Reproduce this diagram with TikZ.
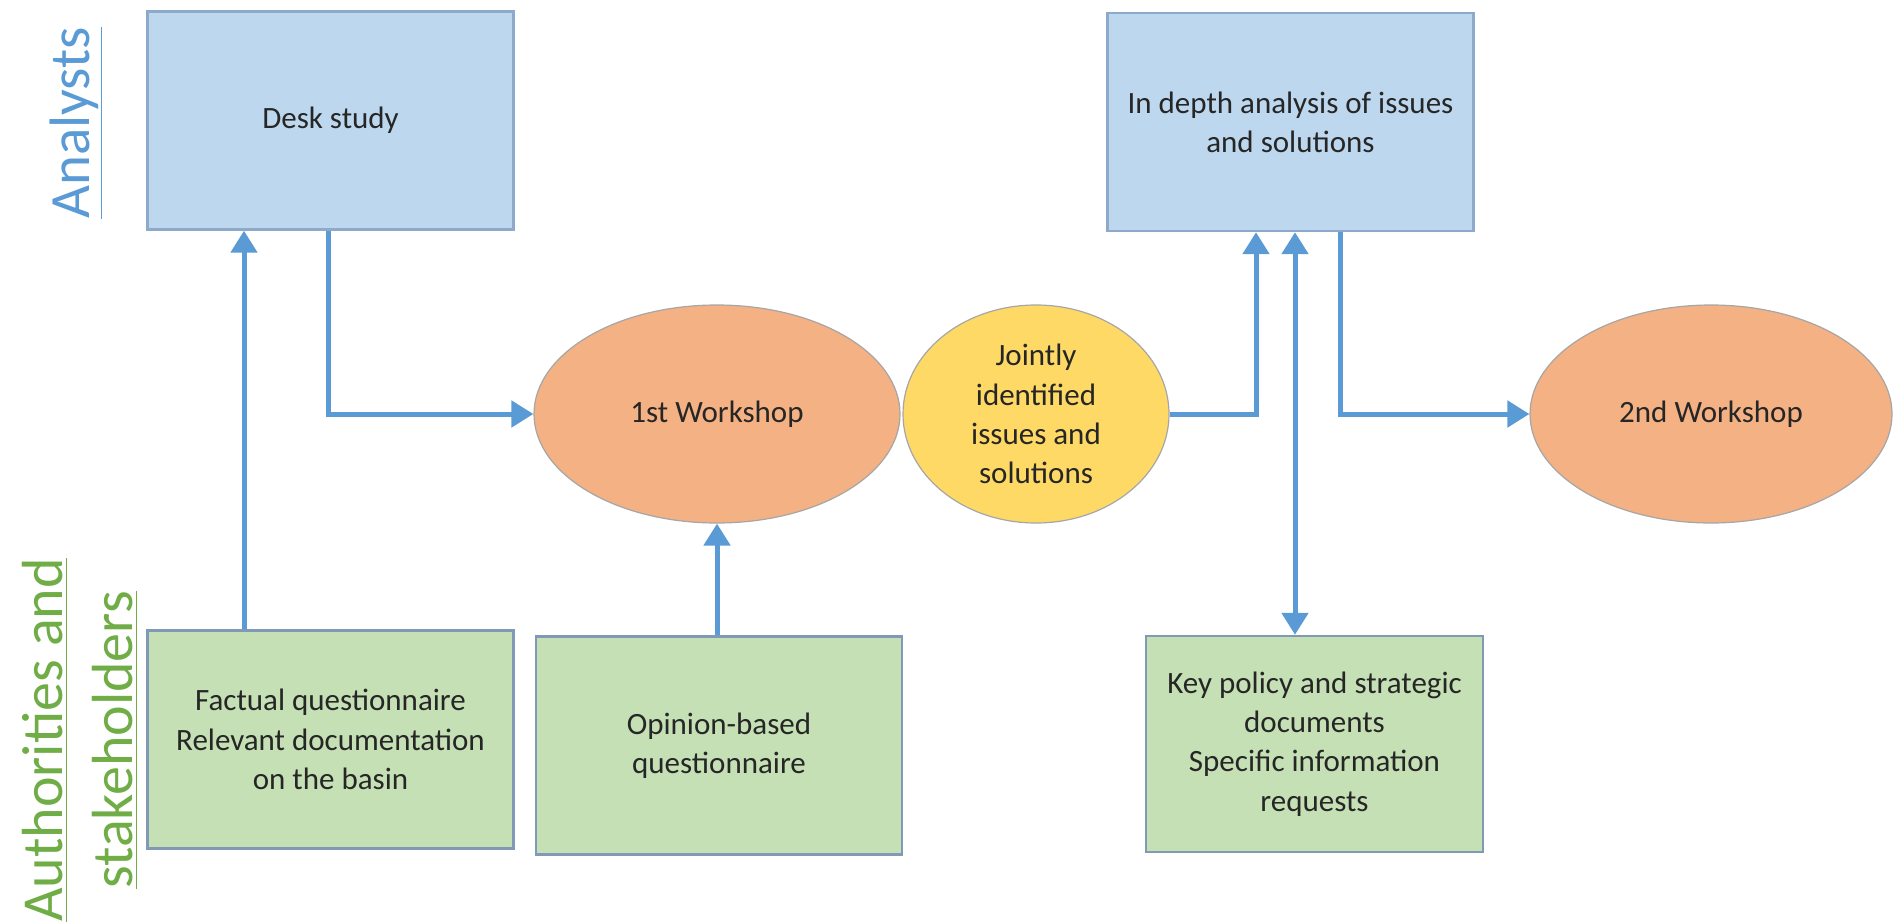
\documentclass[tikz,border=0pt]{standalone}
\usepackage{fontspec}
\setmainfont{Carlito}
\usetikzlibrary{shapes, arrows.meta}
\definecolor{boxblue}{HTML}{BDD7EE}
\definecolor{boxgreen}{HTML}{C5E0B4}
\definecolor{edgeblue}{HTML}{8EAACB}
\definecolor{wsorange}{HTML}{F4B183}
\definecolor{jointyellow}{HTML}{FFD966}
\definecolor{flowblue}{HTML}{5B9BD5}
\definecolor{labgreen}{HTML}{70AD47}

\begin{document}
\begin{tikzpicture}[x=0.5pt, y=-0.5pt,
        txt/.style={align=center, text=black!85, font=\fontsize{15.5}{19.6}\selectfont},
        bluebox/.style={txt, draw=edgeblue, line width=1.2pt, fill=boxblue, minimum width=183pt, minimum height=109pt},
        greenbox/.style={txt, draw=edgeblue!90!black, line width=1.2pt, fill=boxgreen, minimum width=183pt, minimum height=109pt},
        blob/.style={txt, ellipse, draw=black!35, line width=0.6pt, inner sep=0pt, minimum height=109pt},
        flow/.style={draw=flowblue, line width=2.5pt, -{Triangle[width=13pt, length=11pt]}}]
            \useasboundingbox (0,0) rectangle (1893,921);

            % lane labels
            \node[rotate=90, text=flowblue, font=\fontsize{28.5}{34}\selectfont] (analysts) at (76,123) {\underline{Analysts}};
            \node[rotate=90, text=labgreen, align=center, font=\fontsize{29}{35}\selectfont] (stake) at (80,740) {\underline{Authorities and}\\\underline{stakeholders}};

            % boxes and workshops
            \node[bluebox] (desk) at (330.5,120.5) {Desk study};
            \node[bluebox] (depth) at (1290.5,122) {In depth analysis of issues\\and solutions};
            \node[greenbox] (fact) at (330.5,739.5) {Factual questionnaire\\Relevant documentation\\on the basin};
            \node[greenbox] (opinion) at (719,745.5) {Opinion-based\\questionnaire};
            \node[greenbox, minimum width=168.5pt, minimum height=108pt] (keydoc) at (1314.5,744) {Key policy and strategic\\documents\\Specific information\\requests};
            \node[blob, fill=wsorange, minimum width=183pt] (ws1) at (717,414) {1st Workshop};
            \node[blob, fill=jointyellow, minimum width=133pt] (joint) at (1036,414) {Jointly\\identified\\issues and\\solutions};
            \node[blob, fill=wsorange, minimum width=181pt] (ws2) at (1711,414) {2nd Workshop};

            \coordinate (c1) at (244,0);
            \coordinate (c2) at (328,0);
            \coordinate (c3) at (1256,0);
            \coordinate (c4) at (1295,0);
            \coordinate (c5) at (1340,0);

            % connectors
            \draw[flow] (fact.north -| c1) -- (desk.south -| c1);
            \draw[flow] (desk.south -| c2) |- (ws1.west);
            \draw[flow] (opinion.north -| ws1.south) -- (ws1.south);
            \draw[flow] (joint.east) -| (depth.south -| c3);
            \draw[flow, {Triangle[width=13pt, length=11pt]}-{Triangle[width=13pt, length=11pt]}] (depth.south -| c4) -- (keydoc.north -| c4);
            \draw[flow] (depth.south -| c5) |- (ws2.west);
\end{tikzpicture}
\end{document}
